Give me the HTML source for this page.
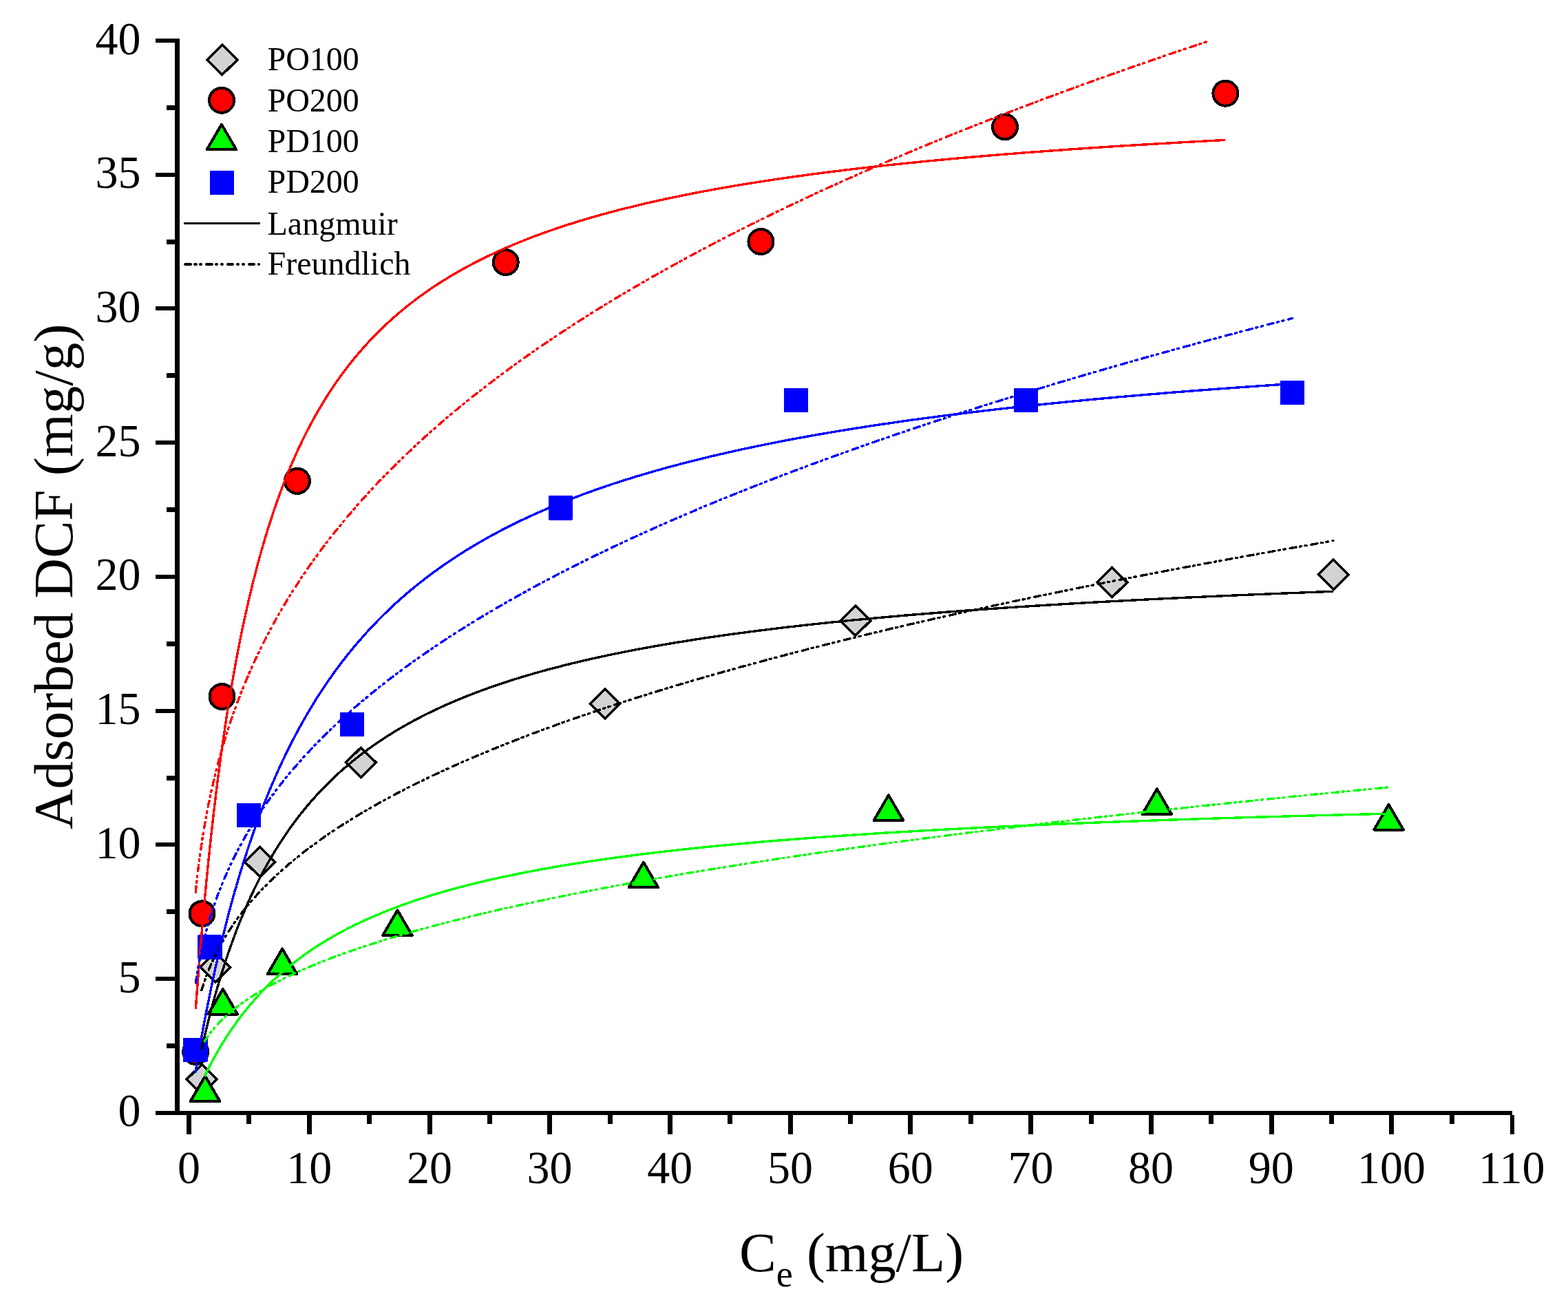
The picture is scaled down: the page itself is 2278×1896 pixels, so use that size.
<!DOCTYPE html>
<html lang="en"><head><meta charset="utf-8"><title>Adsorbed DCF isotherms</title>
<style>
html,body{margin:0;padding:0;background:#fff;}
body{width:2278px;height:1896px;overflow:hidden;}
svg{display:block;}
text{font-family:"Liberation Serif","Times New Roman",serif;fill:#000;}
.tick{font-size:66px;}
.leg{font-size:48px;}
.ttl{font-size:80px;}
.ax{fill:#000;shape-rendering:crispEdges;}
.mk{stroke:#000;stroke-width:4;stroke-linejoin:miter;shape-rendering:crispEdges;}
.mkr{stroke:#000;stroke-width:4;stroke-linejoin:round;shape-rendering:crispEdges;}
.ln{fill:none;shape-rendering:crispEdges;stroke-width:3.4;stroke-linecap:butt;stroke-linejoin:round;}
.fr{fill:none;shape-rendering:crispEdges;stroke-width:3.4;stroke-dasharray:9.0 5.4 2.3 5.4 2.3 7.1;stroke-linecap:round;stroke-linejoin:round;}
</style></head><body>
<svg width="2278" height="1896" viewBox="0 0 2278 1896">
<rect x="0" y="0" width="2278" height="1896" fill="#ffffff"/>
<g id="markers">
<polygon class="mk" style="stroke-width:3.6" fill="#d3d3d3" points="293.2,1546.5 315.1,1568.1 293.2,1589.7 271.3,1568.1"/>
<polygon class="mk" style="stroke-width:3.6" fill="#d3d3d3" points="312.8,1383.7 334.7,1405.3 312.8,1426.9 290.9,1405.3"/>
<polygon class="mk" style="stroke-width:3.6" fill="#d3d3d3" points="377.6,1230.7 399.5,1252.3 377.6,1273.9 355.7,1252.3"/>
<polygon class="mk" style="stroke-width:3.6" fill="#d3d3d3" points="524.4,1086.2 546.3,1107.8 524.4,1129.4 502.5,1107.8"/>
<polygon class="mk" style="stroke-width:3.6" fill="#d3d3d3" points="879.0,1000.9 900.9,1022.5 879.0,1044.1 857.1,1022.5"/>
<polygon class="mk" style="stroke-width:3.6" fill="#d3d3d3" points="1242.9,880.2 1264.8,901.8 1242.9,923.4 1221.0,901.8"/>
<polygon class="mk" style="stroke-width:3.6" fill="#d3d3d3" points="1615.7,824.5 1637.6,846.1 1615.7,867.7 1593.8,846.1"/>
<polygon class="mk" style="stroke-width:3.6" fill="#d3d3d3" points="1937.3,813.2 1959.2,834.8 1937.3,856.4 1915.4,834.8"/>
<circle class="mk" fill="#ff0000" cx="284.2" cy="1528.0" r="18.0"/>
<circle class="mk" fill="#ff0000" cx="293.5" cy="1327.4" r="18.0"/>
<circle class="mk" fill="#ff0000" cx="322.5" cy="1012.0" r="18.0"/>
<circle class="mk" fill="#ff0000" cx="431.9" cy="698.9" r="18.0"/>
<circle class="mk" fill="#ff0000" cx="734.7" cy="381.1" r="18.0"/>
<circle class="mk" fill="#ff0000" cx="1105.4" cy="351.1" r="18.0"/>
<circle class="mk" fill="#ff0000" cx="1460.0" cy="184.4" r="18.0"/>
<circle class="mk" fill="#ff0000" cx="1780.4" cy="135.7" r="18.0"/>
<polygon class="mkr" fill="#00ff00" points="298.1,1563.4 319.4,1600.0 276.8,1600.0"/>
<polygon class="mkr" fill="#00ff00" points="323.8,1436.9 345.1,1473.5 302.5,1473.5"/>
<polygon class="mkr" fill="#00ff00" points="410.1,1378.5 431.4,1415.1 388.8,1415.1"/>
<polygon class="mkr" fill="#00ff00" points="577.4,1322.4 598.7,1359.0 556.1,1359.0"/>
<polygon class="mkr" fill="#00ff00" points="934.9,1252.7 956.2,1289.3 913.6,1289.3"/>
<polygon class="mkr" fill="#00ff00" points="1290.9,1155.3 1312.2,1191.9 1269.6,1191.9"/>
<polygon class="mkr" fill="#00ff00" points="1680.8,1146.3 1702.1,1182.9 1659.5,1182.9"/>
<polygon class="mkr" fill="#00ff00" points="2017.5,1168.9 2038.8,1205.5 1996.2,1205.5"/>
<rect fill="#0000ff" shape-rendering="crispEdges" rx="1.5" x="266.1" y="1507.6" width="35.4" height="35.4"/>
<rect fill="#0000ff" shape-rendering="crispEdges" rx="1.5" x="287.2" y="1358.4" width="35.4" height="35.4"/>
<rect fill="#0000ff" shape-rendering="crispEdges" rx="1.5" x="343.8" y="1166.8" width="35.4" height="35.4"/>
<rect fill="#0000ff" shape-rendering="crispEdges" rx="1.5" x="493.7" y="1034.8" width="35.4" height="35.4"/>
<rect fill="#0000ff" shape-rendering="crispEdges" rx="1.5" x="796.6" y="720.1" width="35.4" height="35.4"/>
<rect fill="#0000ff" shape-rendering="crispEdges" rx="1.5" x="1138.9" y="563.9" width="35.4" height="35.4"/>
<rect fill="#0000ff" shape-rendering="crispEdges" rx="1.5" x="1472.7" y="563.9" width="35.4" height="35.4"/>
<rect fill="#0000ff" shape-rendering="crispEdges" rx="1.5" x="1860.0" y="553.0" width="35.4" height="35.4"/>
</g>
<g id="curves">
<path class="ln" stroke="#000000" d="M292.8 1524.7 L292.9 1524.6 L292.9 1524.5 L292.9 1524.3 L293.0 1523.9 L293.1 1523.5 L293.2 1523.0 L293.3 1522.4 L293.5 1521.8 L293.7 1521.0 L293.9 1520.1 L294.1 1519.2 L294.3 1518.1 L294.6 1517.0 L294.9 1515.8 L295.2 1514.5 L295.5 1513.1 L295.8 1511.7 L296.2 1510.1 L296.6 1508.5 L297.0 1506.8 L297.4 1505.0 L297.8 1503.2 L298.3 1501.2 L298.8 1499.2 L299.3 1497.1 L299.8 1495.0 L300.3 1492.7 L300.9 1490.4 L301.5 1488.1 L302.1 1485.6 L302.7 1483.1 L303.4 1480.6 L304.0 1478.0 L304.7 1475.3 L305.4 1472.5 L306.2 1469.7 L306.9 1466.9 L307.7 1464.0 L308.5 1461.0 L309.3 1458.0 L310.1 1455.0 L311.0 1451.9 L311.8 1448.7 L312.7 1445.5 L313.7 1442.3 L314.6 1439.0 L315.5 1435.7 L316.5 1432.4 L317.5 1429.0 L318.5 1425.6 L319.6 1422.2 L320.6 1418.7 L321.7 1415.2 L322.8 1411.7 L323.9 1408.1 L325.1 1404.5 L326.2 1401.0 L327.4 1397.3 L328.6 1393.7 L329.8 1390.0 L331.1 1386.4 L332.3 1382.7 L333.6 1379.0 L334.9 1375.3 L336.3 1371.6 L337.6 1367.8 L339.0 1364.1 L340.4 1360.3 L341.8 1356.6 L343.2 1352.8 L344.6 1349.1 L346.1 1345.3 L347.6 1341.6 L349.1 1337.8 L350.6 1334.0 L352.2 1330.3 L353.8 1326.5 L355.4 1322.8 L357.0 1319.0 L358.6 1315.3 L360.3 1311.6 L361.9 1307.8 L363.6 1304.1 L365.3 1300.4 L367.1 1296.7 L368.8 1293.0 L370.6 1289.3 L372.4 1285.7 L374.2 1282.0 L376.1 1278.4 L377.9 1274.8 L379.8 1271.2 L381.7 1267.6 L383.6 1264.0 L385.6 1260.4 L387.5 1256.9 L389.5 1253.3 L391.5 1249.8 L393.6 1246.3 L395.6 1242.9 L397.7 1239.4 L399.8 1236.0 L401.9 1232.6 L404.0 1229.2 L406.1 1225.8 L408.3 1222.4 L410.5 1219.1 L412.7 1215.8 L414.9 1212.5 L417.2 1209.2 L419.4 1205.9 L421.7 1202.7 L424.1 1199.5 L426.4 1196.3 L428.7 1193.2 L431.1 1190.0 L433.5 1186.9 L435.9 1183.8 L438.4 1180.7 L440.8 1177.7 L443.3 1174.6 L445.8 1171.6 L448.3 1168.6 L450.8 1165.7 L453.4 1162.7 L456.0 1159.8 L458.6 1156.9 L461.2 1154.1 L463.8 1151.2 L466.5 1148.4 L469.2 1145.6 L471.9 1142.8 L474.6 1140.1 L477.4 1137.3 L480.1 1134.6 L482.9 1131.9 L485.7 1129.3 L488.5 1126.6 L491.4 1124.0 L494.2 1121.4 L497.1 1118.8 L500.0 1116.3 L503.0 1113.8 L505.9 1111.2 L508.9 1108.8 L511.9 1106.3 L514.9 1103.9 L517.9 1101.4 L521.0 1099.0 L524.0 1096.6 L527.1 1094.3 L530.3 1092.0 L533.4 1089.6 L536.5 1087.3 L539.7 1085.1 L542.9 1082.8 L546.1 1080.6 L549.4 1078.4 L552.6 1076.2 L555.9 1074.0 L559.2 1071.8 L562.5 1069.7 L565.9 1067.6 L569.2 1065.5 L572.6 1063.4 L576.0 1061.4 L579.4 1059.3 L582.9 1057.3 L586.3 1055.3 L589.8 1053.3 L593.3 1051.4 L596.8 1049.4 L600.4 1047.5 L603.9 1045.6 L607.5 1043.7 L611.1 1041.8 L614.8 1039.9 L618.4 1038.1 L622.1 1036.3 L625.8 1034.5 L629.5 1032.7 L633.2 1030.9 L637.0 1029.2 L640.7 1027.4 L644.5 1025.7 L648.3 1024.0 L652.2 1022.3 L656.0 1020.6 L659.9 1019.0 L663.8 1017.3 L667.7 1015.7 L671.6 1014.1 L675.6 1012.5 L679.6 1010.9 L683.6 1009.3 L687.6 1007.8 L691.6 1006.2 L695.7 1004.7 L699.8 1003.2 L703.9 1001.7 L708.0 1000.2 L712.1 998.7 L716.3 997.3 L720.5 995.8 L724.7 994.4 L728.9 993.0 L733.1 991.6 L737.4 990.2 L741.7 988.8 L746.0 987.4 L750.3 986.1 L754.7 984.7 L759.0 983.4 L763.4 982.1 L767.8 980.8 L772.3 979.5 L776.7 978.2 L781.2 976.9 L785.7 975.7 L790.2 974.4 L794.7 973.2 L799.3 972.0 L803.8 970.8 L808.4 969.6 L813.0 968.4 L817.7 967.2 L822.3 966.0 L827.0 964.9 L831.7 963.7 L836.4 962.6 L841.2 961.4 L845.9 960.3 L850.7 959.2 L855.5 958.1 L860.3 957.0 L865.2 956.0 L870.0 954.9 L874.9 953.8 L879.8 952.8 L884.7 951.7 L889.7 950.7 L894.6 949.7 L899.6 948.7 L904.6 947.7 L909.6 946.7 L914.7 945.7 L919.7 944.7 L924.8 943.7 L929.9 942.8 L935.1 941.8 L940.2 940.9 L945.4 939.9 L950.6 939.0 L955.8 938.1 L961.0 937.2 L966.3 936.3 L971.5 935.4 L976.8 934.5 L982.1 933.6 L987.5 932.7 L992.8 931.9 L998.2 931.0 L1003.6 930.2 L1009.0 929.3 L1014.5 928.5 L1019.9 927.6 L1025.4 926.8 L1030.9 926.0 L1036.4 925.2 L1041.9 924.4 L1047.5 923.6 L1053.1 922.8 L1058.7 922.0 L1064.3 921.2 L1069.9 920.5 L1075.6 919.7 L1081.3 919.0 L1087.0 918.2 L1092.7 917.5 L1098.5 916.7 L1104.2 916.0 L1110.0 915.3 L1115.8 914.6 L1121.6 913.8 L1127.5 913.1 L1133.3 912.4 L1139.2 911.7 L1145.1 911.0 L1151.1 910.4 L1157.0 909.7 L1163.0 909.0 L1169.0 908.3 L1175.0 907.7 L1181.0 907.0 L1187.1 906.4 L1193.2 905.7 L1199.2 905.1 L1205.4 904.4 L1211.5 903.8 L1217.7 903.2 L1223.8 902.6 L1230.0 901.9 L1236.2 901.3 L1242.5 900.7 L1248.7 900.1 L1255.0 899.5 L1261.3 898.9 L1267.6 898.3 L1274.0 897.8 L1280.3 897.2 L1286.7 896.6 L1293.1 896.0 L1299.5 895.5 L1306.0 894.9 L1312.4 894.3 L1318.9 893.8 L1325.4 893.2 L1332.0 892.7 L1338.5 892.2 L1345.1 891.6 L1351.7 891.1 L1358.3 890.6 L1364.9 890.0 L1371.5 889.5 L1378.2 889.0 L1384.9 888.5 L1391.6 888.0 L1398.3 887.5 L1405.1 887.0 L1411.9 886.5 L1418.7 886.0 L1425.5 885.5 L1432.3 885.0 L1439.2 884.5 L1446.0 884.1 L1452.9 883.6 L1459.8 883.1 L1466.8 882.6 L1473.7 882.2 L1480.7 881.7 L1487.7 881.3 L1494.7 880.8 L1501.8 880.4 L1508.8 879.9 L1515.9 879.5 L1523.0 879.0 L1530.1 878.6 L1537.3 878.2 L1544.4 877.7 L1551.6 877.3 L1558.8 876.9 L1566.0 876.4 L1573.3 876.0 L1580.5 875.6 L1587.8 875.2 L1595.1 874.8 L1602.5 874.4 L1609.8 874.0 L1617.2 873.6 L1624.6 873.2 L1632.0 872.8 L1639.4 872.4 L1646.9 872.0 L1654.3 871.6 L1661.8 871.2 L1669.3 870.8 L1676.9 870.5 L1684.4 870.1 L1692.0 869.7 L1699.6 869.3 L1707.2 869.0 L1714.8 868.6 L1722.5 868.2 L1730.2 867.9 L1737.9 867.5 L1745.6 867.2 L1753.3 866.8 L1761.1 866.5 L1768.8 866.1 L1776.6 865.8 L1784.5 865.4 L1792.3 865.1 L1800.2 864.7 L1808.0 864.4 L1815.9 864.1 L1823.9 863.7 L1831.8 863.4 L1839.8 863.1 L1847.8 862.8 L1855.8 862.4 L1863.8 862.1 L1871.8 861.8 L1879.9 861.5 L1888.0 861.2 L1896.1 860.8 L1904.2 860.5 L1912.4 860.2 L1920.5 859.9 L1928.7 859.6 L1936.9 859.3"/>
<path class="fr" stroke="#000000" d="M292.8 1438.7 L292.9 1438.7 L292.9 1438.6 L292.9 1438.4 L293.0 1438.1 L293.1 1437.8 L293.2 1437.5 L293.3 1437.0 L293.5 1436.5 L293.7 1436.0 L293.9 1435.3 L294.1 1434.7 L294.3 1433.9 L294.6 1433.1 L294.9 1432.2 L295.2 1431.3 L295.5 1430.3 L295.8 1429.3 L296.2 1428.2 L296.6 1427.1 L297.0 1425.9 L297.4 1424.7 L297.8 1423.5 L298.3 1422.2 L298.8 1420.8 L299.3 1419.4 L299.8 1418.0 L300.3 1416.6 L300.9 1415.1 L301.5 1413.6 L302.1 1412.0 L302.7 1410.4 L303.4 1408.8 L304.0 1407.2 L304.7 1405.5 L305.4 1403.9 L306.2 1402.2 L306.9 1400.4 L307.7 1398.7 L308.5 1396.9 L309.3 1395.2 L310.1 1393.4 L311.0 1391.5 L311.8 1389.7 L312.7 1387.9 L313.7 1386.0 L314.6 1384.1 L315.5 1382.3 L316.5 1380.4 L317.5 1378.5 L318.5 1376.6 L319.6 1374.6 L320.6 1372.7 L321.7 1370.8 L322.8 1368.8 L323.9 1366.9 L325.1 1364.9 L326.2 1363.0 L327.4 1361.0 L328.6 1359.0 L329.8 1357.0 L331.1 1355.1 L332.3 1353.1 L333.6 1351.1 L334.9 1349.1 L336.3 1347.1 L337.6 1345.1 L339.0 1343.1 L340.4 1341.1 L341.8 1339.1 L343.2 1337.1 L344.6 1335.1 L346.1 1333.1 L347.6 1331.1 L349.1 1329.1 L350.6 1327.1 L352.2 1325.1 L353.8 1323.1 L355.4 1321.1 L357.0 1319.1 L358.6 1317.1 L360.3 1315.1 L361.9 1313.1 L363.6 1311.1 L365.3 1309.1 L367.1 1307.1 L368.8 1305.1 L370.6 1303.1 L372.4 1301.1 L374.2 1299.1 L376.1 1297.1 L377.9 1295.1 L379.8 1293.1 L381.7 1291.1 L383.6 1289.2 L385.6 1287.2 L387.5 1285.2 L389.5 1283.2 L391.5 1281.3 L393.6 1279.3 L395.6 1277.3 L397.7 1275.3 L399.8 1273.4 L401.9 1271.4 L404.0 1269.5 L406.1 1267.5 L408.3 1265.5 L410.5 1263.6 L412.7 1261.6 L414.9 1259.7 L417.2 1257.7 L419.4 1255.8 L421.7 1253.9 L424.1 1251.9 L426.4 1250.0 L428.7 1248.0 L431.1 1246.1 L433.5 1244.2 L435.9 1242.3 L438.4 1240.3 L440.8 1238.4 L443.3 1236.5 L445.8 1234.6 L448.3 1232.7 L450.8 1230.8 L453.4 1228.9 L456.0 1227.0 L458.6 1225.1 L461.2 1223.2 L463.8 1221.3 L466.5 1219.4 L469.2 1217.5 L471.9 1215.6 L474.6 1213.7 L477.4 1211.9 L480.1 1210.0 L482.9 1208.1 L485.7 1206.2 L488.5 1204.4 L491.4 1202.5 L494.2 1200.6 L497.1 1198.8 L500.0 1196.9 L503.0 1195.1 L505.9 1193.2 L508.9 1191.4 L511.9 1189.5 L514.9 1187.7 L517.9 1185.8 L521.0 1184.0 L524.0 1182.1 L527.1 1180.3 L530.3 1178.5 L533.4 1176.6 L536.5 1174.8 L539.7 1173.0 L542.9 1171.2 L546.1 1169.4 L549.4 1167.5 L552.6 1165.7 L555.9 1163.9 L559.2 1162.1 L562.5 1160.3 L565.9 1158.5 L569.2 1156.7 L572.6 1154.9 L576.0 1153.1 L579.4 1151.3 L582.9 1149.5 L586.3 1147.7 L589.8 1146.0 L593.3 1144.2 L596.8 1142.4 L600.4 1140.6 L603.9 1138.9 L607.5 1137.1 L611.1 1135.3 L614.8 1133.5 L618.4 1131.8 L622.1 1130.0 L625.8 1128.3 L629.5 1126.5 L633.2 1124.7 L637.0 1123.0 L640.7 1121.2 L644.5 1119.5 L648.3 1117.8 L652.2 1116.0 L656.0 1114.3 L659.9 1112.5 L663.8 1110.8 L667.7 1109.1 L671.6 1107.3 L675.6 1105.6 L679.6 1103.9 L683.6 1102.1 L687.6 1100.4 L691.6 1098.7 L695.7 1097.0 L699.8 1095.3 L703.9 1093.6 L708.0 1091.9 L712.1 1090.1 L716.3 1088.4 L720.5 1086.7 L724.7 1085.0 L728.9 1083.3 L733.1 1081.6 L737.4 1079.9 L741.7 1078.2 L746.0 1076.6 L750.3 1074.9 L754.7 1073.2 L759.0 1071.5 L763.4 1069.8 L767.8 1068.1 L772.3 1066.4 L776.7 1064.8 L781.2 1063.1 L785.7 1061.4 L790.2 1059.8 L794.7 1058.1 L799.3 1056.4 L803.8 1054.8 L808.4 1053.1 L813.0 1051.4 L817.7 1049.8 L822.3 1048.1 L827.0 1046.5 L831.7 1044.8 L836.4 1043.2 L841.2 1041.5 L845.9 1039.9 L850.7 1038.2 L855.5 1036.6 L860.3 1034.9 L865.2 1033.3 L870.0 1031.7 L874.9 1030.0 L879.8 1028.4 L884.7 1026.8 L889.7 1025.1 L894.6 1023.5 L899.6 1021.9 L904.6 1020.3 L909.6 1018.6 L914.7 1017.0 L919.7 1015.4 L924.8 1013.8 L929.9 1012.2 L935.1 1010.6 L940.2 1009.0 L945.4 1007.3 L950.6 1005.7 L955.8 1004.1 L961.0 1002.5 L966.3 1000.9 L971.5 999.3 L976.8 997.7 L982.1 996.1 L987.5 994.5 L992.8 992.9 L998.2 991.4 L1003.6 989.8 L1009.0 988.2 L1014.5 986.6 L1019.9 985.0 L1025.4 983.4 L1030.9 981.8 L1036.4 980.3 L1041.9 978.7 L1047.5 977.1 L1053.1 975.5 L1058.7 974.0 L1064.3 972.4 L1069.9 970.8 L1075.6 969.2 L1081.3 967.7 L1087.0 966.1 L1092.7 964.6 L1098.5 963.0 L1104.2 961.4 L1110.0 959.9 L1115.8 958.3 L1121.6 956.8 L1127.5 955.2 L1133.3 953.7 L1139.2 952.1 L1145.1 950.6 L1151.1 949.0 L1157.0 947.5 L1163.0 945.9 L1169.0 944.4 L1175.0 942.8 L1181.0 941.3 L1187.1 939.8 L1193.2 938.2 L1199.2 936.7 L1205.4 935.2 L1211.5 933.6 L1217.7 932.1 L1223.8 930.6 L1230.0 929.0 L1236.2 927.5 L1242.5 926.0 L1248.7 924.5 L1255.0 922.9 L1261.3 921.4 L1267.6 919.9 L1274.0 918.4 L1280.3 916.9 L1286.7 915.4 L1293.1 913.8 L1299.5 912.3 L1306.0 910.8 L1312.4 909.3 L1318.9 907.8 L1325.4 906.3 L1332.0 904.8 L1338.5 903.3 L1345.1 901.8 L1351.7 900.3 L1358.3 898.8 L1364.9 897.3 L1371.5 895.8 L1378.2 894.3 L1384.9 892.8 L1391.6 891.3 L1398.3 889.8 L1405.1 888.3 L1411.9 886.8 L1418.7 885.4 L1425.5 883.9 L1432.3 882.4 L1439.2 880.9 L1446.0 879.4 L1452.9 877.9 L1459.8 876.5 L1466.8 875.0 L1473.7 873.5 L1480.7 872.0 L1487.7 870.6 L1494.7 869.1 L1501.8 867.6 L1508.8 866.1 L1515.9 864.7 L1523.0 863.2 L1530.1 861.7 L1537.3 860.3 L1544.4 858.8 L1551.6 857.4 L1558.8 855.9 L1566.0 854.4 L1573.3 853.0 L1580.5 851.5 L1587.8 850.1 L1595.1 848.6 L1602.5 847.1 L1609.8 845.7 L1617.2 844.2 L1624.6 842.8 L1632.0 841.3 L1639.4 839.9 L1646.9 838.5 L1654.3 837.0 L1661.8 835.6 L1669.3 834.1 L1676.9 832.7 L1684.4 831.2 L1692.0 829.8 L1699.6 828.4 L1707.2 826.9 L1714.8 825.5 L1722.5 824.0 L1730.2 822.6 L1737.9 821.2 L1745.6 819.8 L1753.3 818.3 L1761.1 816.9 L1768.8 815.5 L1776.6 814.0 L1784.5 812.6 L1792.3 811.2 L1800.2 809.8 L1808.0 808.3 L1815.9 806.9 L1823.9 805.5 L1831.8 804.1 L1839.8 802.7 L1847.8 801.2 L1855.8 799.8 L1863.8 798.4 L1871.8 797.0 L1879.9 795.6 L1888.0 794.2 L1896.1 792.8 L1904.2 791.4 L1912.4 789.9 L1920.5 788.5 L1928.7 787.1 L1936.9 785.7"/>
<path class="ln" stroke="#ff0000" d="M284.3 1466.4 L284.3 1466.3 L284.3 1465.9 L284.4 1465.3 L284.4 1464.4 L284.5 1463.2 L284.6 1461.8 L284.7 1460.1 L284.9 1458.2 L285.0 1456.1 L285.2 1453.6 L285.4 1451.0 L285.6 1448.1 L285.9 1445.0 L286.1 1441.6 L286.4 1438.0 L286.7 1434.2 L287.0 1430.1 L287.3 1425.8 L287.7 1421.3 L288.0 1416.7 L288.4 1411.8 L288.8 1406.7 L289.2 1401.4 L289.7 1395.9 L290.1 1390.2 L290.6 1384.4 L291.1 1378.4 L291.6 1372.2 L292.1 1365.9 L292.7 1359.4 L293.3 1352.7 L293.9 1345.9 L294.5 1339.0 L295.1 1332.0 L295.7 1324.8 L296.4 1317.5 L297.1 1310.1 L297.8 1302.5 L298.5 1294.9 L299.2 1287.2 L300.0 1279.4 L300.8 1271.5 L301.6 1263.5 L302.4 1255.5 L303.2 1247.3 L304.1 1239.1 L304.9 1230.9 L305.8 1222.6 L306.7 1214.3 L307.7 1205.9 L308.6 1197.5 L309.6 1189.0 L310.5 1180.5 L311.6 1172.0 L312.6 1163.5 L313.6 1155.0 L314.7 1146.4 L315.7 1137.8 L316.8 1129.3 L317.9 1120.7 L319.1 1112.2 L320.2 1103.6 L321.4 1095.1 L322.6 1086.5 L323.8 1078.0 L325.0 1069.5 L326.3 1061.1 L327.5 1052.6 L328.8 1044.2 L330.1 1035.8 L331.4 1027.5 L332.8 1019.2 L334.1 1010.9 L335.5 1002.7 L336.9 994.5 L338.3 986.3 L339.7 978.2 L341.2 970.2 L342.6 962.2 L344.1 954.2 L345.6 946.3 L347.2 938.5 L348.7 930.7 L350.3 922.9 L351.8 915.2 L353.4 907.6 L355.1 900.0 L356.7 892.5 L358.4 885.1 L360.0 877.7 L361.7 870.4 L363.4 863.1 L365.2 855.9 L366.9 848.8 L368.7 841.7 L370.5 834.7 L372.3 827.7 L374.1 820.8 L375.9 814.0 L377.8 807.3 L379.7 800.6 L381.6 794.0 L383.5 787.4 L385.4 780.9 L387.4 774.5 L389.3 768.1 L391.3 761.8 L393.4 755.6 L395.4 749.4 L397.4 743.3 L399.5 737.2 L401.6 731.2 L403.7 725.3 L405.8 719.5 L407.9 713.7 L410.1 707.9 L412.3 702.3 L414.5 696.6 L416.7 691.1 L418.9 685.6 L421.2 680.2 L423.5 674.8 L425.8 669.5 L428.1 664.2 L430.4 659.0 L432.7 653.9 L435.1 648.8 L437.5 643.8 L439.9 638.8 L442.3 633.9 L444.8 629.1 L447.2 624.3 L449.7 619.5 L452.2 614.9 L454.7 610.2 L457.2 605.6 L459.8 601.1 L462.4 596.6 L465.0 592.2 L467.6 587.8 L470.2 583.5 L472.8 579.2 L475.5 575.0 L478.2 570.8 L480.9 566.7 L483.6 562.6 L486.3 558.5 L489.1 554.5 L491.9 550.6 L494.7 546.7 L497.5 542.8 L500.3 539.0 L503.2 535.3 L506.0 531.5 L508.9 527.9 L511.8 524.2 L514.8 520.6 L517.7 517.1 L520.7 513.6 L523.7 510.1 L526.7 506.6 L529.7 503.2 L532.7 499.9 L535.8 496.6 L538.9 493.3 L542.0 490.0 L545.1 486.8 L548.2 483.7 L551.4 480.5 L554.5 477.4 L557.7 474.4 L560.9 471.3 L564.1 468.4 L567.4 465.4 L570.7 462.5 L573.9 459.6 L577.2 456.7 L580.6 453.9 L583.9 451.1 L587.2 448.3 L590.6 445.6 L594.0 442.9 L597.4 440.2 L600.9 437.6 L604.3 434.9 L607.8 432.4 L611.3 429.8 L614.8 427.3 L618.3 424.8 L621.8 422.3 L625.4 419.9 L629.0 417.4 L632.6 415.0 L636.2 412.7 L639.8 410.3 L643.5 408.0 L647.2 405.7 L650.9 403.5 L654.6 401.2 L658.3 399.0 L662.1 396.8 L665.8 394.7 L669.6 392.5 L673.4 390.4 L677.3 388.3 L681.1 386.2 L685.0 384.2 L688.8 382.1 L692.7 380.1 L696.7 378.1 L700.6 376.2 L704.5 374.2 L708.5 372.3 L712.5 370.4 L716.5 368.5 L720.6 366.6 L724.6 364.8 L728.7 362.9 L732.8 361.1 L736.9 359.3 L741.0 357.6 L745.1 355.8 L749.3 354.1 L753.5 352.4 L757.7 350.7 L761.9 349.0 L766.1 347.3 L770.4 345.7 L774.6 344.0 L778.9 342.4 L783.3 340.8 L787.6 339.2 L791.9 337.7 L796.3 336.1 L800.7 334.6 L805.1 333.1 L809.5 331.6 L814.0 330.1 L818.4 328.6 L822.9 327.1 L827.4 325.7 L831.9 324.3 L836.4 322.9 L841.0 321.4 L845.6 320.1 L850.2 318.7 L854.8 317.3 L859.4 316.0 L864.0 314.6 L868.7 313.3 L873.4 312.0 L878.1 310.7 L882.8 309.4 L887.6 308.1 L892.3 306.9 L897.1 305.6 L901.9 304.4 L906.7 303.2 L911.5 302.0 L916.4 300.8 L921.3 299.6 L926.2 298.4 L931.1 297.2 L936.0 296.1 L940.9 294.9 L945.9 293.8 L950.9 292.7 L955.9 291.5 L960.9 290.4 L966.0 289.3 L971.0 288.3 L976.1 287.2 L981.2 286.1 L986.3 285.1 L991.4 284.0 L996.6 283.0 L1001.8 282.0 L1007.0 280.9 L1012.2 279.9 L1017.4 278.9 L1022.6 277.9 L1027.9 277.0 L1033.2 276.0 L1038.5 275.0 L1043.8 274.1 L1049.1 273.1 L1054.5 272.2 L1059.9 271.3 L1065.3 270.3 L1070.7 269.4 L1076.1 268.5 L1081.6 267.6 L1087.0 266.7 L1092.5 265.9 L1098.0 265.0 L1103.6 264.1 L1109.1 263.3 L1114.7 262.4 L1120.3 261.6 L1125.9 260.7 L1131.5 259.9 L1137.1 259.1 L1142.8 258.3 L1148.4 257.4 L1154.1 256.6 L1159.9 255.9 L1165.6 255.1 L1171.3 254.3 L1177.1 253.5 L1182.9 252.7 L1188.7 252.0 L1194.5 251.2 L1200.4 250.5 L1206.2 249.7 L1212.1 249.0 L1218.0 248.3 L1223.9 247.5 L1229.9 246.8 L1235.8 246.1 L1241.8 245.4 L1247.8 244.7 L1253.8 244.0 L1259.8 243.3 L1265.9 242.6 L1272.0 242.0 L1278.1 241.3 L1284.2 240.6 L1290.3 239.9 L1296.4 239.3 L1302.6 238.6 L1308.8 238.0 L1315.0 237.4 L1321.2 236.7 L1327.4 236.1 L1333.7 235.5 L1340.0 234.8 L1346.2 234.2 L1352.6 233.6 L1358.9 233.0 L1365.2 232.4 L1371.6 231.8 L1378.0 231.2 L1384.4 230.6 L1390.8 230.0 L1397.3 229.5 L1403.7 228.9 L1410.2 228.3 L1416.7 227.8 L1423.2 227.2 L1429.8 226.6 L1436.3 226.1 L1442.9 225.5 L1449.5 225.0 L1456.1 224.4 L1462.7 223.9 L1469.4 223.4 L1476.0 222.9 L1482.7 222.3 L1489.4 221.8 L1496.1 221.3 L1502.9 220.8 L1509.7 220.3 L1516.4 219.8 L1523.2 219.3 L1530.0 218.8 L1536.9 218.3 L1543.7 217.8 L1550.6 217.3 L1557.5 216.8 L1564.4 216.3 L1571.3 215.9 L1578.3 215.4 L1585.3 214.9 L1592.2 214.5 L1599.2 214.0 L1606.3 213.5 L1613.3 213.1 L1620.4 212.6 L1627.4 212.2 L1634.5 211.7 L1641.7 211.3 L1648.8 210.9 L1655.9 210.4 L1663.1 210.0 L1670.3 209.6 L1677.5 209.1 L1684.7 208.7 L1692.0 208.3 L1699.3 207.9 L1706.5 207.5 L1713.8 207.0 L1721.2 206.6 L1728.5 206.2 L1735.9 205.8 L1743.2 205.4 L1750.6 205.0 L1758.1 204.6 L1765.5 204.2 L1772.9 203.8 L1780.4 203.5"/>
<path class="fr" stroke="#ff0000" d="M284.3 1296.7 L284.3 1296.6 L284.3 1296.3 L284.4 1295.8 L284.4 1295.2 L284.5 1294.3 L284.6 1293.3 L284.7 1292.1 L284.9 1290.7 L285.0 1289.2 L285.2 1287.5 L285.4 1285.6 L285.6 1283.6 L285.8 1281.4 L286.1 1279.1 L286.4 1276.7 L286.6 1274.1 L286.9 1271.4 L287.3 1268.7 L287.6 1265.8 L288.0 1262.7 L288.3 1259.7 L288.7 1256.5 L289.2 1253.2 L289.6 1249.8 L290.0 1246.4 L290.5 1242.9 L291.0 1239.4 L291.5 1235.8 L292.0 1232.1 L292.6 1228.4 L293.1 1224.6 L293.7 1220.8 L294.3 1217.0 L294.9 1213.1 L295.6 1209.2 L296.2 1205.2 L296.9 1201.2 L297.6 1197.2 L298.3 1193.2 L299.0 1189.2 L299.8 1185.1 L300.5 1181.0 L301.3 1177.0 L302.1 1172.9 L302.9 1168.8 L303.8 1164.6 L304.6 1160.5 L305.5 1156.4 L306.4 1152.2 L307.3 1148.1 L308.2 1143.9 L309.2 1139.8 L310.2 1135.6 L311.1 1131.5 L312.1 1127.3 L313.2 1123.2 L314.2 1119.0 L315.3 1114.9 L316.3 1110.7 L317.4 1106.6 L318.5 1102.5 L319.7 1098.3 L320.8 1094.2 L322.0 1090.1 L323.2 1086.0 L324.4 1081.9 L325.6 1077.8 L326.9 1073.7 L328.1 1069.6 L329.4 1065.5 L330.7 1061.4 L332.0 1057.4 L333.4 1053.3 L334.7 1049.2 L336.1 1045.2 L337.5 1041.2 L338.9 1037.1 L340.3 1033.1 L341.8 1029.1 L343.2 1025.1 L344.7 1021.1 L346.2 1017.1 L347.7 1013.2 L349.3 1009.2 L350.8 1005.2 L352.4 1001.3 L354.0 997.3 L355.6 993.4 L357.2 989.5 L358.9 985.6 L360.5 981.7 L362.2 977.8 L363.9 973.9 L365.7 970.0 L367.4 966.2 L369.2 962.3 L370.9 958.4 L372.7 954.6 L374.5 950.8 L376.4 947.0 L378.2 943.1 L380.1 939.3 L382.0 935.6 L383.9 931.8 L385.8 928.0 L387.8 924.2 L389.7 920.5 L391.7 916.7 L393.7 913.0 L395.7 909.2 L397.7 905.5 L399.8 901.8 L401.9 898.1 L404.0 894.4 L406.1 890.7 L408.2 887.0 L410.3 883.4 L412.5 879.7 L414.7 876.1 L416.9 872.4 L419.1 868.8 L421.3 865.2 L423.6 861.5 L425.9 857.9 L428.2 854.3 L430.5 850.7 L432.8 847.1 L435.2 843.6 L437.5 840.0 L439.9 836.4 L442.3 832.9 L444.7 829.3 L447.2 825.8 L449.6 822.2 L452.1 818.7 L454.6 815.2 L457.1 811.7 L459.7 808.2 L462.2 804.7 L464.8 801.2 L467.4 797.7 L470.0 794.3 L472.6 790.8 L475.2 787.3 L477.9 783.9 L480.6 780.5 L483.3 777.0 L486.0 773.6 L488.7 770.2 L491.5 766.8 L494.3 763.3 L497.0 759.9 L499.9 756.6 L502.7 753.2 L505.5 749.8 L508.4 746.4 L511.3 743.1 L514.2 739.7 L517.1 736.3 L520.0 733.0 L523.0 729.7 L526.0 726.3 L529.0 723.0 L532.0 719.7 L535.0 716.4 L538.0 713.1 L541.1 709.8 L544.2 706.5 L547.3 703.2 L550.4 699.9 L553.6 696.6 L556.7 693.3 L559.9 690.1 L563.1 686.8 L566.3 683.6 L569.5 680.3 L572.8 677.1 L576.1 673.9 L579.3 670.6 L582.7 667.4 L586.0 664.2 L589.3 661.0 L592.7 657.8 L596.1 654.6 L599.5 651.4 L602.9 648.2 L606.3 645.0 L609.8 641.8 L613.2 638.7 L616.7 635.5 L620.2 632.4 L623.8 629.2 L627.3 626.1 L630.9 622.9 L634.5 619.8 L638.1 616.6 L641.7 613.5 L645.3 610.4 L649.0 607.3 L652.6 604.2 L656.3 601.1 L660.0 598.0 L663.8 594.9 L667.5 591.8 L671.3 588.7 L675.1 585.6 L678.9 582.5 L682.7 579.5 L686.5 576.4 L690.4 573.3 L694.3 570.3 L698.2 567.2 L702.1 564.2 L706.0 561.1 L710.0 558.1 L713.9 555.1 L717.9 552.1 L721.9 549.0 L725.9 546.0 L730.0 543.0 L734.1 540.0 L738.1 537.0 L742.2 534.0 L746.3 531.0 L750.5 528.0 L754.6 525.0 L758.8 522.0 L763.0 519.1 L767.2 516.1 L771.4 513.1 L775.7 510.2 L779.9 507.2 L784.2 504.3 L788.5 501.3 L792.8 498.4 L797.2 495.4 L801.5 492.5 L805.9 489.6 L810.3 486.6 L814.7 483.7 L819.1 480.8 L823.6 477.9 L828.1 475.0 L832.5 472.1 L837.0 469.2 L841.6 466.3 L846.1 463.4 L850.7 460.5 L855.2 457.6 L859.8 454.7 L864.5 451.8 L869.1 448.9 L873.7 446.1 L878.4 443.2 L883.1 440.3 L887.8 437.5 L892.5 434.6 L897.3 431.8 L902.0 428.9 L906.8 426.1 L911.6 423.3 L916.4 420.4 L921.3 417.6 L926.1 414.8 L931.0 411.9 L935.9 409.1 L940.8 406.3 L945.7 403.5 L950.6 400.7 L955.6 397.9 L960.6 395.1 L965.6 392.3 L970.6 389.5 L975.6 386.7 L980.7 383.9 L985.8 381.1 L990.9 378.3 L996.0 375.5 L1001.1 372.8 L1006.3 370.0 L1011.4 367.2 L1016.6 364.5 L1021.8 361.7 L1027.0 359.0 L1032.3 356.2 L1037.5 353.5 L1042.8 350.7 L1048.1 348.0 L1053.4 345.2 L1058.7 342.5 L1064.1 339.8 L1069.5 337.0 L1074.9 334.3 L1080.3 331.6 L1085.7 328.9 L1091.1 326.1 L1096.6 323.4 L1102.1 320.7 L1107.6 318.0 L1113.1 315.3 L1118.6 312.6 L1124.2 309.9 L1129.7 307.2 L1135.3 304.5 L1140.9 301.8 L1146.6 299.1 L1152.2 296.5 L1157.9 293.8 L1163.6 291.1 L1169.3 288.4 L1175.0 285.8 L1180.7 283.1 L1186.5 280.4 L1192.2 277.8 L1198.0 275.1 L1203.8 272.5 L1209.7 269.8 L1215.5 267.2 L1221.4 264.5 L1227.3 261.9 L1233.2 259.2 L1239.1 256.6 L1245.0 254.0 L1251.0 251.3 L1257.0 248.7 L1263.0 246.1 L1269.0 243.5 L1275.0 240.8 L1281.1 238.2 L1287.1 235.6 L1293.2 233.0 L1299.3 230.4 L1305.4 227.8 L1311.6 225.2 L1317.7 222.6 L1323.9 220.0 L1330.1 217.4 L1336.3 214.8 L1342.6 212.2 L1348.8 209.6 L1355.1 207.0 L1361.4 204.5 L1367.7 201.9 L1374.0 199.3 L1380.4 196.7 L1386.7 194.2 L1393.1 191.6 L1399.5 189.0 L1405.9 186.5 L1412.4 183.9 L1418.8 181.4 L1425.3 178.8 L1431.8 176.3 L1438.3 173.7 L1444.8 171.2 L1451.4 168.6 L1457.9 166.1 L1464.5 163.5 L1471.1 161.0 L1477.8 158.5 L1484.4 155.9 L1491.1 153.4 L1497.7 150.9 L1504.4 148.4 L1511.1 145.8 L1517.9 143.3 L1524.6 140.8 L1531.4 138.3 L1538.2 135.8 L1545.0 133.3 L1551.8 130.8 L1558.6 128.3 L1565.5 125.8 L1572.4 123.3 L1579.3 120.8 L1586.2 118.3 L1593.1 115.8 L1600.1 113.3 L1607.1 110.8 L1614.0 108.3 L1621.1 105.8 L1628.1 103.4 L1635.1 100.9 L1642.2 98.4 L1649.3 95.9 L1656.4 93.5 L1663.5 91.0 L1670.6 88.5 L1677.8 86.1 L1685.0 83.6 L1692.1 81.1 L1699.4 78.7 L1706.6 76.2 L1713.8 73.8 L1721.1 71.3 L1728.4 68.9 L1735.7 66.4 L1743.0 64.0 L1750.3 61.6 L1757.7 59.1"/>
<path class="ln" stroke="#00ff00" d="M297.2 1563.8 L297.2 1563.8 L297.3 1563.7 L297.3 1563.6 L297.4 1563.5 L297.5 1563.3 L297.6 1563.0 L297.7 1562.7 L297.9 1562.4 L298.1 1562.0 L298.3 1561.6 L298.5 1561.1 L298.8 1560.6 L299.0 1560.1 L299.3 1559.5 L299.6 1558.9 L300.0 1558.2 L300.3 1557.5 L300.7 1556.7 L301.1 1555.9 L301.5 1555.1 L302.0 1554.2 L302.4 1553.3 L302.9 1552.3 L303.4 1551.3 L303.9 1550.3 L304.5 1549.2 L305.0 1548.1 L305.6 1547.0 L306.3 1545.8 L306.9 1544.6 L307.5 1543.4 L308.2 1542.1 L308.9 1540.8 L309.6 1539.5 L310.4 1538.1 L311.1 1536.7 L311.9 1535.3 L312.7 1533.9 L313.6 1532.4 L314.4 1530.9 L315.3 1529.3 L316.2 1527.8 L317.1 1526.2 L318.0 1524.6 L319.0 1523.0 L320.0 1521.3 L321.0 1519.6 L322.0 1517.9 L323.0 1516.2 L324.1 1514.5 L325.2 1512.7 L326.3 1510.9 L327.4 1509.2 L328.6 1507.3 L329.7 1505.5 L330.9 1503.7 L332.1 1501.8 L333.4 1500.0 L334.6 1498.1 L335.9 1496.2 L337.2 1494.3 L338.5 1492.4 L339.9 1490.5 L341.2 1488.5 L342.6 1486.6 L344.0 1484.6 L345.5 1482.7 L346.9 1480.7 L348.4 1478.7 L349.9 1476.8 L351.4 1474.8 L352.9 1472.8 L354.5 1470.8 L356.1 1468.8 L357.7 1466.8 L359.3 1464.8 L361.0 1462.8 L362.6 1460.8 L364.3 1458.8 L366.0 1456.8 L367.8 1454.8 L369.5 1452.8 L371.3 1450.8 L373.1 1448.8 L374.9 1446.8 L376.7 1444.8 L378.6 1442.8 L380.5 1440.8 L382.4 1438.8 L384.3 1436.8 L386.2 1434.8 L388.2 1432.8 L390.2 1430.9 L392.2 1428.9 L394.2 1426.9 L396.3 1425.0 L398.4 1423.0 L400.5 1421.1 L402.6 1419.2 L404.7 1417.2 L406.9 1415.3 L409.1 1413.4 L411.3 1411.5 L413.5 1409.6 L415.7 1407.7 L418.0 1405.8 L420.3 1403.9 L422.6 1402.1 L425.0 1400.2 L427.3 1398.4 L429.7 1396.5 L432.1 1394.7 L434.5 1392.9 L436.9 1391.1 L439.4 1389.3 L441.9 1387.5 L444.4 1385.7 L446.9 1383.9 L449.5 1382.2 L452.0 1380.4 L454.6 1378.7 L457.2 1376.9 L459.9 1375.2 L462.5 1373.5 L465.2 1371.8 L467.9 1370.1 L470.6 1368.5 L473.4 1366.8 L476.1 1365.1 L478.9 1363.5 L481.7 1361.9 L484.5 1360.2 L487.4 1358.6 L490.3 1357.0 L493.2 1355.4 L496.1 1353.9 L499.0 1352.3 L502.0 1350.7 L504.9 1349.2 L507.9 1347.7 L511.0 1346.2 L514.0 1344.6 L517.1 1343.1 L520.2 1341.7 L523.3 1340.2 L526.4 1338.7 L529.5 1337.3 L532.7 1335.8 L535.9 1334.4 L539.1 1333.0 L542.4 1331.6 L545.6 1330.2 L548.9 1328.8 L552.2 1327.4 L555.5 1326.0 L558.9 1324.7 L562.2 1323.3 L565.6 1322.0 L569.0 1320.7 L572.5 1319.4 L575.9 1318.1 L579.4 1316.8 L582.9 1315.5 L586.4 1314.2 L589.9 1313.0 L593.5 1311.7 L597.1 1310.5 L600.7 1309.2 L604.3 1308.0 L607.9 1306.8 L611.6 1305.6 L615.3 1304.4 L619.0 1303.2 L622.7 1302.1 L626.5 1300.9 L630.3 1299.7 L634.1 1298.6 L637.9 1297.5 L641.7 1296.3 L645.6 1295.2 L649.4 1294.1 L653.4 1293.0 L657.3 1292.0 L661.2 1290.9 L665.2 1289.8 L669.2 1288.7 L673.2 1287.7 L677.2 1286.7 L681.3 1285.6 L685.3 1284.6 L689.4 1283.6 L693.6 1282.6 L697.7 1281.6 L701.9 1280.6 L706.0 1279.6 L710.2 1278.6 L714.5 1277.7 L718.7 1276.7 L723.0 1275.8 L727.3 1274.8 L731.6 1273.9 L735.9 1273.0 L740.3 1272.1 L744.7 1271.2 L749.1 1270.3 L753.5 1269.4 L757.9 1268.5 L762.4 1267.6 L766.9 1266.7 L771.4 1265.9 L775.9 1265.0 L780.4 1264.2 L785.0 1263.3 L789.6 1262.5 L794.2 1261.7 L798.8 1260.8 L803.5 1260.0 L808.2 1259.2 L812.9 1258.4 L817.6 1257.6 L822.3 1256.8 L827.1 1256.1 L831.9 1255.3 L836.7 1254.5 L841.5 1253.8 L846.4 1253.0 L851.2 1252.3 L856.1 1251.5 L861.0 1250.8 L866.0 1250.1 L870.9 1249.3 L875.9 1248.6 L880.9 1247.9 L885.9 1247.2 L891.0 1246.5 L896.0 1245.8 L901.1 1245.1 L906.2 1244.5 L911.4 1243.8 L916.5 1243.1 L921.7 1242.4 L926.9 1241.8 L932.1 1241.1 L937.3 1240.5 L942.6 1239.8 L947.9 1239.2 L953.2 1238.6 L958.5 1238.0 L963.8 1237.3 L969.2 1236.7 L974.6 1236.1 L980.0 1235.5 L985.4 1234.9 L990.9 1234.3 L996.3 1233.7 L1001.8 1233.1 L1007.3 1232.5 L1012.9 1232.0 L1018.4 1231.4 L1024.0 1230.8 L1029.6 1230.3 L1035.3 1229.7 L1040.9 1229.1 L1046.6 1228.6 L1052.2 1228.1 L1058.0 1227.5 L1063.7 1227.0 L1069.4 1226.4 L1075.2 1225.9 L1081.0 1225.4 L1086.8 1224.9 L1092.7 1224.4 L1098.5 1223.8 L1104.4 1223.3 L1110.3 1222.8 L1116.2 1222.3 L1122.2 1221.8 L1128.1 1221.3 L1134.1 1220.9 L1140.1 1220.4 L1146.2 1219.9 L1152.2 1219.4 L1158.3 1219.0 L1164.4 1218.5 L1170.5 1218.0 L1176.7 1217.6 L1182.8 1217.1 L1189.0 1216.6 L1195.2 1216.2 L1201.4 1215.7 L1207.7 1215.3 L1213.9 1214.9 L1220.2 1214.4 L1226.5 1214.0 L1232.9 1213.6 L1239.2 1213.1 L1245.6 1212.7 L1252.0 1212.3 L1258.4 1211.9 L1264.9 1211.5 L1271.3 1211.1 L1277.8 1210.6 L1284.3 1210.2 L1290.8 1209.8 L1297.4 1209.4 L1304.0 1209.0 L1310.5 1208.7 L1317.2 1208.3 L1323.8 1207.9 L1330.4 1207.5 L1337.1 1207.1 L1343.8 1206.7 L1350.5 1206.4 L1357.3 1206.0 L1364.0 1205.6 L1370.8 1205.3 L1377.6 1204.9 L1384.5 1204.5 L1391.3 1204.2 L1398.2 1203.8 L1405.1 1203.5 L1412.0 1203.1 L1418.9 1202.8 L1425.9 1202.4 L1432.9 1202.1 L1439.9 1201.7 L1446.9 1201.4 L1453.9 1201.1 L1461.0 1200.7 L1468.1 1200.4 L1475.2 1200.1 L1482.3 1199.7 L1489.5 1199.4 L1496.6 1199.1 L1503.8 1198.8 L1511.0 1198.5 L1518.3 1198.1 L1525.5 1197.8 L1532.8 1197.5 L1540.1 1197.2 L1547.4 1196.9 L1554.8 1196.6 L1562.1 1196.3 L1569.5 1196.0 L1576.9 1195.7 L1584.4 1195.4 L1591.8 1195.1 L1599.3 1194.8 L1606.8 1194.5 L1614.3 1194.3 L1621.8 1194.0 L1629.4 1193.7 L1637.0 1193.4 L1644.6 1193.1 L1652.2 1192.9 L1659.8 1192.6 L1667.5 1192.3 L1675.2 1192.0 L1682.9 1191.8 L1690.6 1191.5 L1698.4 1191.2 L1706.2 1191.0 L1714.0 1190.7 L1721.8 1190.5 L1729.6 1190.2 L1737.5 1189.9 L1745.3 1189.7 L1753.2 1189.4 L1761.2 1189.2 L1769.1 1188.9 L1777.1 1188.7 L1785.1 1188.4 L1793.1 1188.2 L1801.1 1187.9 L1809.2 1187.7 L1817.2 1187.5 L1825.3 1187.2 L1833.5 1187.0 L1841.6 1186.8 L1849.8 1186.5 L1857.9 1186.3 L1866.1 1186.1 L1874.4 1185.8 L1882.6 1185.6 L1890.9 1185.4 L1899.2 1185.2 L1907.5 1184.9 L1915.8 1184.7 L1924.2 1184.5 L1932.5 1184.3 L1940.9 1184.1 L1949.4 1183.8 L1957.8 1183.6 L1966.3 1183.4 L1974.7 1183.2 L1983.2 1183.0 L1991.8 1182.8 L2000.3 1182.6 L2008.9 1182.4 L2017.5 1182.2"/>
<path class="fr" stroke="#00ff00" d="M297.2 1512.8 L297.2 1512.8 L297.3 1512.7 L297.3 1512.6 L297.4 1512.5 L297.5 1512.4 L297.6 1512.2 L297.7 1512.0 L297.9 1511.7 L298.1 1511.4 L298.3 1511.1 L298.5 1510.8 L298.8 1510.4 L299.0 1510.0 L299.3 1509.5 L299.6 1509.1 L300.0 1508.6 L300.3 1508.0 L300.7 1507.5 L301.1 1506.9 L301.5 1506.3 L302.0 1505.7 L302.4 1505.0 L302.9 1504.4 L303.4 1503.7 L303.9 1503.0 L304.5 1502.2 L305.0 1501.5 L305.6 1500.7 L306.3 1499.9 L306.9 1499.1 L307.5 1498.3 L308.2 1497.4 L308.9 1496.6 L309.6 1495.7 L310.4 1494.8 L311.1 1493.9 L311.9 1493.0 L312.7 1492.1 L313.6 1491.1 L314.4 1490.2 L315.3 1489.2 L316.2 1488.3 L317.1 1487.3 L318.0 1486.3 L319.0 1485.3 L320.0 1484.3 L321.0 1483.3 L322.0 1482.3 L323.0 1481.2 L324.1 1480.2 L325.2 1479.2 L326.3 1478.1 L327.4 1477.1 L328.6 1476.0 L329.7 1475.0 L330.9 1473.9 L332.1 1472.9 L333.4 1471.8 L334.6 1470.7 L335.9 1469.6 L337.2 1468.5 L338.5 1467.5 L339.9 1466.4 L341.2 1465.3 L342.6 1464.2 L344.0 1463.1 L345.5 1462.0 L346.9 1460.9 L348.4 1459.8 L349.9 1458.7 L351.4 1457.6 L352.9 1456.5 L354.5 1455.4 L356.1 1454.3 L357.7 1453.2 L359.3 1452.1 L361.0 1451.0 L362.6 1449.9 L364.3 1448.8 L366.0 1447.6 L367.8 1446.5 L369.5 1445.4 L371.3 1444.3 L373.1 1443.2 L374.9 1442.1 L376.7 1441.0 L378.6 1439.9 L380.5 1438.8 L382.4 1437.7 L384.3 1436.6 L386.2 1435.4 L388.2 1434.3 L390.2 1433.2 L392.2 1432.1 L394.2 1431.0 L396.3 1429.9 L398.4 1428.8 L400.5 1427.7 L402.6 1426.6 L404.7 1425.5 L406.9 1424.4 L409.1 1423.3 L411.3 1422.2 L413.5 1421.1 L415.7 1420.0 L418.0 1418.9 L420.3 1417.8 L422.6 1416.7 L425.0 1415.6 L427.3 1414.5 L429.7 1413.4 L432.1 1412.3 L434.5 1411.2 L436.9 1410.2 L439.4 1409.1 L441.9 1408.0 L444.4 1406.9 L446.9 1405.8 L449.5 1404.7 L452.0 1403.6 L454.6 1402.6 L457.2 1401.5 L459.9 1400.4 L462.5 1399.3 L465.2 1398.3 L467.9 1397.2 L470.6 1396.1 L473.4 1395.0 L476.1 1394.0 L478.9 1392.9 L481.7 1391.8 L484.5 1390.8 L487.4 1389.7 L490.3 1388.6 L493.2 1387.6 L496.1 1386.5 L499.0 1385.5 L502.0 1384.4 L504.9 1383.3 L507.9 1382.3 L511.0 1381.2 L514.0 1380.2 L517.1 1379.1 L520.2 1378.1 L523.3 1377.0 L526.4 1376.0 L529.5 1374.9 L532.7 1373.9 L535.9 1372.8 L539.1 1371.8 L542.4 1370.8 L545.6 1369.7 L548.9 1368.7 L552.2 1367.6 L555.5 1366.6 L558.9 1365.6 L562.2 1364.5 L565.6 1363.5 L569.0 1362.5 L572.5 1361.4 L575.9 1360.4 L579.4 1359.4 L582.9 1358.4 L586.4 1357.3 L589.9 1356.3 L593.5 1355.3 L597.1 1354.3 L600.7 1353.2 L604.3 1352.2 L607.9 1351.2 L611.6 1350.2 L615.3 1349.2 L619.0 1348.2 L622.7 1347.2 L626.5 1346.1 L630.3 1345.1 L634.1 1344.1 L637.9 1343.1 L641.7 1342.1 L645.6 1341.1 L649.4 1340.1 L653.4 1339.1 L657.3 1338.1 L661.2 1337.1 L665.2 1336.1 L669.2 1335.1 L673.2 1334.1 L677.2 1333.1 L681.3 1332.1 L685.3 1331.1 L689.4 1330.1 L693.6 1329.2 L697.7 1328.2 L701.9 1327.2 L706.0 1326.2 L710.2 1325.2 L714.5 1324.2 L718.7 1323.2 L723.0 1322.3 L727.3 1321.3 L731.6 1320.3 L735.9 1319.3 L740.3 1318.4 L744.7 1317.4 L749.1 1316.4 L753.5 1315.4 L757.9 1314.5 L762.4 1313.5 L766.9 1312.5 L771.4 1311.5 L775.9 1310.6 L780.4 1309.6 L785.0 1308.6 L789.6 1307.7 L794.2 1306.7 L798.8 1305.8 L803.5 1304.8 L808.2 1303.8 L812.9 1302.9 L817.6 1301.9 L822.3 1301.0 L827.1 1300.0 L831.9 1299.1 L836.7 1298.1 L841.5 1297.2 L846.4 1296.2 L851.2 1295.2 L856.1 1294.3 L861.0 1293.4 L866.0 1292.4 L870.9 1291.5 L875.9 1290.5 L880.9 1289.6 L885.9 1288.6 L891.0 1287.7 L896.0 1286.7 L901.1 1285.8 L906.2 1284.9 L911.4 1283.9 L916.5 1283.0 L921.7 1282.1 L926.9 1281.1 L932.1 1280.2 L937.3 1279.3 L942.6 1278.3 L947.9 1277.4 L953.2 1276.5 L958.5 1275.5 L963.8 1274.6 L969.2 1273.7 L974.6 1272.8 L980.0 1271.8 L985.4 1270.9 L990.9 1270.0 L996.3 1269.1 L1001.8 1268.1 L1007.3 1267.2 L1012.9 1266.3 L1018.4 1265.4 L1024.0 1264.5 L1029.6 1263.5 L1035.3 1262.6 L1040.9 1261.7 L1046.6 1260.8 L1052.2 1259.9 L1058.0 1259.0 L1063.7 1258.1 L1069.4 1257.2 L1075.2 1256.2 L1081.0 1255.3 L1086.8 1254.4 L1092.7 1253.5 L1098.5 1252.6 L1104.4 1251.7 L1110.3 1250.8 L1116.2 1249.9 L1122.2 1249.0 L1128.1 1248.1 L1134.1 1247.2 L1140.1 1246.3 L1146.2 1245.4 L1152.2 1244.5 L1158.3 1243.6 L1164.4 1242.7 L1170.5 1241.8 L1176.7 1240.9 L1182.8 1240.0 L1189.0 1239.1 L1195.2 1238.2 L1201.4 1237.3 L1207.7 1236.5 L1213.9 1235.6 L1220.2 1234.7 L1226.5 1233.8 L1232.9 1232.9 L1239.2 1232.0 L1245.6 1231.1 L1252.0 1230.2 L1258.4 1229.4 L1264.9 1228.5 L1271.3 1227.6 L1277.8 1226.7 L1284.3 1225.8 L1290.8 1225.0 L1297.4 1224.1 L1304.0 1223.2 L1310.5 1222.3 L1317.2 1221.4 L1323.8 1220.6 L1330.4 1219.7 L1337.1 1218.8 L1343.8 1217.9 L1350.5 1217.1 L1357.3 1216.2 L1364.0 1215.3 L1370.8 1214.5 L1377.6 1213.6 L1384.5 1212.7 L1391.3 1211.8 L1398.2 1211.0 L1405.1 1210.1 L1412.0 1209.2 L1418.9 1208.4 L1425.9 1207.5 L1432.9 1206.7 L1439.9 1205.8 L1446.9 1204.9 L1453.9 1204.1 L1461.0 1203.2 L1468.1 1202.3 L1475.2 1201.5 L1482.3 1200.6 L1489.5 1199.8 L1496.6 1198.9 L1503.8 1198.1 L1511.0 1197.2 L1518.3 1196.3 L1525.5 1195.5 L1532.8 1194.6 L1540.1 1193.8 L1547.4 1192.9 L1554.8 1192.1 L1562.1 1191.2 L1569.5 1190.4 L1576.9 1189.5 L1584.4 1188.7 L1591.8 1187.8 L1599.3 1187.0 L1606.8 1186.1 L1614.3 1185.3 L1621.8 1184.4 L1629.4 1183.6 L1637.0 1182.8 L1644.6 1181.9 L1652.2 1181.1 L1659.8 1180.2 L1667.5 1179.4 L1675.2 1178.5 L1682.9 1177.7 L1690.6 1176.9 L1698.4 1176.0 L1706.2 1175.2 L1714.0 1174.4 L1721.8 1173.5 L1729.6 1172.7 L1737.5 1171.8 L1745.3 1171.0 L1753.2 1170.2 L1761.2 1169.3 L1769.1 1168.5 L1777.1 1167.7 L1785.1 1166.8 L1793.1 1166.0 L1801.1 1165.2 L1809.2 1164.4 L1817.2 1163.5 L1825.3 1162.7 L1833.5 1161.9 L1841.6 1161.0 L1849.8 1160.2 L1857.9 1159.4 L1866.1 1158.6 L1874.4 1157.7 L1882.6 1156.9 L1890.9 1156.1 L1899.2 1155.3 L1907.5 1154.4 L1915.8 1153.6 L1924.2 1152.8 L1932.5 1152.0 L1940.9 1151.2 L1949.4 1150.3 L1957.8 1149.5 L1966.3 1148.7 L1974.7 1147.9 L1983.2 1147.1 L1991.8 1146.2 L2000.3 1145.4 L2008.9 1144.6 L2017.5 1143.8"/>
<path class="ln" stroke="#0000ff" d="M283.6 1559.3 L283.6 1559.3 L283.6 1559.1 L283.7 1558.8 L283.7 1558.4 L283.8 1557.9 L283.9 1557.2 L284.1 1556.4 L284.2 1555.5 L284.4 1554.5 L284.6 1553.4 L284.8 1552.1 L285.0 1550.8 L285.3 1549.3 L285.5 1547.7 L285.8 1546.0 L286.1 1544.2 L286.5 1542.3 L286.8 1540.3 L287.2 1538.1 L287.6 1535.9 L288.0 1533.5 L288.4 1531.1 L288.9 1528.5 L289.3 1525.9 L289.8 1523.1 L290.3 1520.3 L290.8 1517.3 L291.4 1514.3 L292.0 1511.1 L292.6 1507.9 L293.2 1504.6 L293.8 1501.2 L294.4 1497.7 L295.1 1494.1 L295.8 1490.5 L296.5 1486.7 L297.2 1482.9 L298.0 1479.0 L298.7 1475.1 L299.5 1471.0 L300.3 1466.9 L301.2 1462.8 L302.0 1458.5 L302.9 1454.2 L303.8 1449.9 L304.7 1445.4 L305.6 1441.0 L306.5 1436.4 L307.5 1431.9 L308.5 1427.2 L309.5 1422.5 L310.5 1417.8 L311.6 1413.0 L312.6 1408.2 L313.7 1403.3 L314.8 1398.4 L316.0 1393.5 L317.1 1388.5 L318.3 1383.5 L319.5 1378.5 L320.7 1373.4 L321.9 1368.3 L323.1 1363.2 L324.4 1358.0 L325.7 1352.9 L327.0 1347.7 L328.3 1342.5 L329.7 1337.2 L331.0 1332.0 L332.4 1326.7 L333.8 1321.5 L335.2 1316.2 L336.7 1310.9 L338.1 1305.6 L339.6 1300.3 L341.1 1295.0 L342.7 1289.7 L344.2 1284.4 L345.8 1279.0 L347.3 1273.7 L349.0 1268.4 L350.6 1263.1 L352.2 1257.8 L353.9 1252.5 L355.6 1247.2 L357.3 1241.9 L359.0 1236.6 L360.7 1231.3 L362.5 1226.1 L364.3 1220.8 L366.1 1215.6 L367.9 1210.3 L369.8 1205.1 L371.6 1199.9 L373.5 1194.8 L375.4 1189.6 L377.3 1184.4 L379.3 1179.3 L381.2 1174.2 L383.2 1169.1 L385.2 1164.0 L387.2 1159.0 L389.3 1153.9 L391.3 1148.9 L393.4 1144.0 L395.5 1139.0 L397.7 1134.1 L399.8 1129.1 L402.0 1124.2 L404.1 1119.4 L406.3 1114.5 L408.6 1109.7 L410.8 1104.9 L413.1 1100.2 L415.3 1095.4 L417.7 1090.7 L420.0 1086.0 L422.3 1081.4 L424.7 1076.8 L427.1 1072.2 L429.5 1067.6 L431.9 1063.1 L434.3 1058.5 L436.8 1054.1 L439.3 1049.6 L441.8 1045.2 L444.3 1040.8 L446.8 1036.4 L449.4 1032.1 L452.0 1027.8 L454.6 1023.5 L457.2 1019.3 L459.8 1015.0 L462.5 1010.9 L465.2 1006.7 L467.9 1002.6 L470.6 998.5 L473.3 994.4 L476.1 990.4 L478.9 986.4 L481.7 982.4 L484.5 978.4 L487.3 974.5 L490.2 970.6 L493.1 966.8 L496.0 962.9 L498.9 959.1 L501.8 955.4 L504.8 951.6 L507.8 947.9 L510.8 944.2 L513.8 940.6 L516.8 937.0 L519.9 933.4 L523.0 929.8 L526.1 926.3 L529.2 922.7 L532.3 919.3 L535.5 915.8 L538.6 912.4 L541.8 909.0 L545.1 905.6 L548.3 902.3 L551.6 899.0 L554.8 895.7 L558.1 892.4 L561.5 889.2 L564.8 886.0 L568.1 882.8 L571.5 879.7 L574.9 876.5 L578.3 873.4 L581.8 870.4 L585.2 867.3 L588.7 864.3 L592.2 861.3 L595.7 858.3 L599.3 855.4 L602.8 852.5 L606.4 849.6 L610.0 846.7 L613.6 843.9 L617.2 841.0 L620.9 838.2 L624.6 835.5 L628.3 832.7 L632.0 830.0 L635.7 827.3 L639.5 824.6 L643.3 821.9 L647.1 819.3 L650.9 816.7 L654.7 814.1 L658.6 811.5 L662.4 809.0 L666.3 806.5 L670.3 804.0 L674.2 801.5 L678.1 799.0 L682.1 796.6 L686.1 794.2 L690.1 791.8 L694.2 789.4 L698.2 787.1 L702.3 784.7 L706.4 782.4 L710.5 780.1 L714.6 777.8 L718.8 775.6 L723.0 773.4 L727.2 771.1 L731.4 768.9 L735.6 766.8 L739.9 764.6 L744.1 762.5 L748.4 760.3 L752.7 758.2 L757.1 756.1 L761.4 754.1 L765.8 752.0 L770.2 750.0 L774.6 748.0 L779.1 746.0 L783.5 744.0 L788.0 742.0 L792.5 740.1 L797.0 738.1 L801.5 736.2 L806.1 734.3 L810.6 732.4 L815.2 730.6 L819.9 728.7 L824.5 726.9 L829.1 725.1 L833.8 723.3 L838.5 721.5 L843.2 719.7 L847.9 717.9 L852.7 716.2 L857.5 714.5 L862.3 712.7 L867.1 711.0 L871.9 709.4 L876.8 707.7 L881.6 706.0 L886.5 704.4 L891.4 702.7 L896.4 701.1 L901.3 699.5 L906.3 697.9 L911.3 696.4 L916.3 694.8 L921.3 693.2 L926.4 691.7 L931.5 690.2 L936.5 688.7 L941.7 687.2 L946.8 685.7 L951.9 684.2 L957.1 682.7 L962.3 681.3 L967.5 679.8 L972.7 678.4 L978.0 677.0 L983.3 675.6 L988.6 674.2 L993.9 672.8 L999.2 671.4 L1004.5 670.1 L1009.9 668.7 L1015.3 667.4 L1020.7 666.0 L1026.1 664.7 L1031.6 663.4 L1037.1 662.1 L1042.6 660.8 L1048.1 659.6 L1053.6 658.3 L1059.1 657.0 L1064.7 655.8 L1070.3 654.6 L1075.9 653.3 L1081.5 652.1 L1087.2 650.9 L1092.9 649.7 L1098.5 648.5 L1104.3 647.3 L1110.0 646.2 L1115.7 645.0 L1121.5 643.9 L1127.3 642.7 L1133.1 641.6 L1138.9 640.5 L1144.8 639.3 L1150.6 638.2 L1156.5 637.1 L1162.4 636.0 L1168.4 635.0 L1174.3 633.9 L1180.3 632.8 L1186.3 631.8 L1192.3 630.7 L1198.3 629.7 L1204.4 628.6 L1210.4 627.6 L1216.5 626.6 L1222.6 625.6 L1228.7 624.6 L1234.9 623.6 L1241.1 622.6 L1247.3 621.6 L1253.5 620.7 L1259.7 619.7 L1265.9 618.7 L1272.2 617.8 L1278.5 616.8 L1284.8 615.9 L1291.1 615.0 L1297.5 614.1 L1303.8 613.1 L1310.2 612.2 L1316.6 611.3 L1323.1 610.4 L1329.5 609.5 L1336.0 608.7 L1342.5 607.8 L1349.0 606.9 L1355.5 606.1 L1362.0 605.2 L1368.6 604.4 L1375.2 603.5 L1381.8 602.7 L1388.4 601.8 L1395.1 601.0 L1401.7 600.2 L1408.4 599.4 L1415.1 598.6 L1421.8 597.8 L1428.6 597.0 L1435.3 596.2 L1442.1 595.4 L1448.9 594.6 L1455.8 593.8 L1462.6 593.1 L1469.5 592.3 L1476.4 591.6 L1483.3 590.8 L1490.2 590.1 L1497.1 589.3 L1504.1 588.6 L1511.1 587.9 L1518.1 587.1 L1525.1 586.4 L1532.2 585.7 L1539.2 585.0 L1546.3 584.3 L1553.4 583.6 L1560.5 582.9 L1567.7 582.2 L1574.8 581.5 L1582.0 580.8 L1589.2 580.1 L1596.4 579.5 L1603.7 578.8 L1611.0 578.1 L1618.2 577.5 L1625.5 576.8 L1632.9 576.2 L1640.2 575.5 L1647.6 574.9 L1655.0 574.3 L1662.4 573.6 L1669.8 573.0 L1677.2 572.4 L1684.7 571.8 L1692.2 571.1 L1699.7 570.5 L1707.2 569.9 L1714.7 569.3 L1722.3 568.7 L1729.9 568.1 L1737.5 567.5 L1745.1 566.9 L1752.7 566.4 L1760.4 565.8 L1768.1 565.2 L1775.8 564.6 L1783.5 564.1 L1791.2 563.5 L1799.0 562.9 L1806.8 562.4 L1814.6 561.8 L1822.4 561.3 L1830.3 560.7 L1838.1 560.2 L1846.0 559.7 L1853.9 559.1 L1861.8 558.6 L1869.8 558.1 L1877.7 557.5"/>
<path class="fr" stroke="#0000ff" d="M284.3 1428.0 L284.3 1428.0 L284.3 1427.8 L284.4 1427.4 L284.4 1427.0 L284.5 1426.3 L284.6 1425.6 L284.8 1424.7 L284.9 1423.8 L285.1 1422.7 L285.3 1421.4 L285.5 1420.1 L285.7 1418.6 L286.0 1417.1 L286.2 1415.4 L286.5 1413.7 L286.8 1411.9 L287.2 1409.9 L287.5 1407.9 L287.9 1405.9 L288.3 1403.7 L288.7 1401.5 L289.1 1399.2 L289.6 1396.8 L290.0 1394.4 L290.5 1392.0 L291.0 1389.5 L291.5 1386.9 L292.1 1384.3 L292.7 1381.7 L293.2 1379.0 L293.9 1376.3 L294.5 1373.6 L295.1 1370.8 L295.8 1368.0 L296.5 1365.2 L297.2 1362.3 L297.9 1359.5 L298.7 1356.6 L299.4 1353.7 L300.2 1350.7 L301.0 1347.8 L301.9 1344.9 L302.7 1341.9 L303.6 1338.9 L304.5 1336.0 L305.4 1333.0 L306.3 1330.0 L307.2 1327.0 L308.2 1324.0 L309.2 1320.9 L310.2 1317.9 L311.2 1314.9 L312.3 1311.9 L313.3 1308.8 L314.4 1305.8 L315.5 1302.8 L316.6 1299.7 L317.8 1296.7 L319.0 1293.7 L320.1 1290.6 L321.3 1287.6 L322.6 1284.6 L323.8 1281.5 L325.1 1278.5 L326.4 1275.5 L327.7 1272.5 L329.0 1269.4 L330.3 1266.4 L331.7 1263.4 L333.1 1260.4 L334.5 1257.4 L335.9 1254.4 L337.4 1251.4 L338.8 1248.4 L340.3 1245.4 L341.8 1242.4 L343.3 1239.4 L344.9 1236.4 L346.4 1233.4 L348.0 1230.5 L349.6 1227.5 L351.2 1224.5 L352.9 1221.6 L354.6 1218.6 L356.2 1215.6 L357.9 1212.7 L359.7 1209.8 L361.4 1206.8 L363.2 1203.9 L365.0 1200.9 L366.8 1198.0 L368.6 1195.1 L370.4 1192.2 L372.3 1189.3 L374.2 1186.4 L376.1 1183.5 L378.0 1180.6 L379.9 1177.7 L381.9 1174.8 L383.9 1171.9 L385.9 1169.1 L387.9 1166.2 L389.9 1163.3 L392.0 1160.5 L394.1 1157.6 L396.2 1154.8 L398.3 1151.9 L400.4 1149.1 L402.6 1146.2 L404.8 1143.4 L407.0 1140.6 L409.2 1137.8 L411.4 1134.9 L413.7 1132.1 L416.0 1129.3 L418.3 1126.5 L420.6 1123.7 L423.0 1120.9 L425.3 1118.2 L427.7 1115.4 L430.1 1112.6 L432.5 1109.8 L435.0 1107.1 L437.4 1104.3 L439.9 1101.5 L442.4 1098.8 L444.9 1096.0 L447.5 1093.3 L450.0 1090.6 L452.6 1087.8 L455.2 1085.1 L457.8 1082.4 L460.4 1079.7 L463.1 1076.9 L465.8 1074.2 L468.5 1071.5 L471.2 1068.8 L473.9 1066.1 L476.7 1063.4 L479.5 1060.7 L482.3 1058.1 L485.1 1055.4 L487.9 1052.7 L490.8 1050.0 L493.7 1047.4 L496.6 1044.7 L499.5 1042.0 L502.4 1039.4 L505.4 1036.7 L508.4 1034.1 L511.4 1031.5 L514.4 1028.8 L517.4 1026.2 L520.5 1023.6 L523.5 1020.9 L526.6 1018.3 L529.8 1015.7 L532.9 1013.1 L536.1 1010.5 L539.2 1007.9 L542.4 1005.3 L545.6 1002.7 L548.9 1000.1 L552.1 997.5 L555.4 994.9 L558.7 992.3 L562.0 989.7 L565.4 987.2 L568.7 984.6 L572.1 982.0 L575.5 979.5 L578.9 976.9 L582.3 974.3 L585.8 971.8 L589.3 969.2 L592.8 966.7 L596.3 964.2 L599.8 961.6 L603.4 959.1 L607.0 956.6 L610.5 954.0 L614.2 951.5 L617.8 949.0 L621.5 946.5 L625.1 944.0 L628.8 941.5 L632.5 938.9 L636.3 936.4 L640.0 933.9 L643.8 931.4 L647.6 929.0 L651.4 926.5 L655.2 924.0 L659.1 921.5 L663.0 919.0 L666.9 916.5 L670.8 914.1 L674.7 911.6 L678.7 909.1 L682.6 906.7 L686.6 904.2 L690.6 901.8 L694.7 899.3 L698.7 896.9 L702.8 894.4 L706.9 892.0 L711.0 889.5 L715.1 887.1 L719.3 884.6 L723.5 882.2 L727.7 879.8 L731.9 877.4 L736.1 874.9 L740.4 872.5 L744.6 870.1 L748.9 867.7 L753.2 865.3 L757.6 862.9 L761.9 860.5 L766.3 858.1 L770.7 855.7 L775.1 853.3 L779.5 850.9 L784.0 848.5 L788.5 846.1 L792.9 843.7 L797.5 841.3 L802.0 838.9 L806.5 836.6 L811.1 834.2 L815.7 831.8 L820.3 829.5 L824.9 827.1 L829.6 824.7 L834.3 822.4 L839.0 820.0 L843.7 817.7 L848.4 815.3 L853.2 813.0 L857.9 810.6 L862.7 808.3 L867.5 805.9 L872.4 803.6 L877.2 801.2 L882.1 798.9 L887.0 796.6 L891.9 794.2 L896.8 791.9 L901.8 789.6 L906.7 787.3 L911.7 785.0 L916.7 782.6 L921.7 780.3 L926.8 778.0 L931.9 775.7 L937.0 773.4 L942.1 771.1 L947.2 768.8 L952.3 766.5 L957.5 764.2 L962.7 761.9 L967.9 759.6 L973.1 757.3 L978.4 755.0 L983.7 752.7 L988.9 750.5 L994.2 748.2 L999.6 745.9 L1004.9 743.6 L1010.3 741.4 L1015.7 739.1 L1021.1 736.8 L1026.5 734.5 L1032.0 732.3 L1037.4 730.0 L1042.9 727.8 L1048.4 725.5 L1054.0 723.2 L1059.5 721.0 L1065.1 718.7 L1070.7 716.5 L1076.3 714.2 L1081.9 712.0 L1087.5 709.8 L1093.2 707.5 L1098.9 705.3 L1104.6 703.0 L1110.3 700.8 L1116.1 698.6 L1121.8 696.4 L1127.6 694.1 L1133.4 691.9 L1139.3 689.7 L1145.1 687.5 L1151.0 685.2 L1156.9 683.0 L1162.8 680.8 L1168.7 678.6 L1174.6 676.4 L1180.6 674.2 L1186.6 672.0 L1192.6 669.8 L1198.6 667.6 L1204.7 665.4 L1210.7 663.2 L1216.8 661.0 L1222.9 658.8 L1229.0 656.6 L1235.2 654.4 L1241.3 652.2 L1247.5 650.0 L1253.7 647.8 L1260.0 645.6 L1266.2 643.5 L1272.5 641.3 L1278.7 639.1 L1285.1 636.9 L1291.4 634.8 L1297.7 632.6 L1304.1 630.4 L1310.5 628.3 L1316.9 626.1 L1323.3 623.9 L1329.7 621.8 L1336.2 619.6 L1342.7 617.4 L1349.2 615.3 L1355.7 613.1 L1362.3 611.0 L1368.8 608.8 L1375.4 606.7 L1382.0 604.5 L1388.6 602.4 L1395.3 600.2 L1401.9 598.1 L1408.6 596.0 L1415.3 593.8 L1422.0 591.7 L1428.8 589.5 L1435.5 587.4 L1442.3 585.3 L1449.1 583.2 L1455.9 581.0 L1462.8 578.9 L1469.7 576.8 L1476.5 574.7 L1483.4 572.5 L1490.4 570.4 L1497.3 568.3 L1504.3 566.2 L1511.2 564.1 L1518.2 562.0 L1525.3 559.8 L1532.3 557.7 L1539.4 555.6 L1546.4 553.5 L1553.5 551.4 L1560.7 549.3 L1567.8 547.2 L1575.0 545.1 L1582.1 543.0 L1589.3 540.9 L1596.6 538.8 L1603.8 536.7 L1611.1 534.6 L1618.3 532.6 L1625.6 530.5 L1633.0 528.4 L1640.3 526.3 L1647.7 524.2 L1655.0 522.1 L1662.4 520.0 L1669.9 518.0 L1677.3 515.9 L1684.8 513.8 L1692.2 511.7 L1699.7 509.7 L1707.3 507.6 L1714.8 505.5 L1722.4 503.5 L1729.9 501.4 L1737.5 499.3 L1745.2 497.3 L1752.8 495.2 L1760.5 493.1 L1768.1 491.1 L1775.8 489.0 L1783.5 487.0 L1791.3 484.9 L1799.0 482.9 L1806.8 480.8 L1814.6 478.8 L1822.4 476.7 L1830.3 474.7 L1838.1 472.6 L1846.0 470.6 L1853.9 468.5 L1861.8 466.5 L1869.8 464.5 L1877.7 462.4"/>
</g>
<g id="axes" class="ax">
<rect x="254" y="56" width="7" height="1564"/>
<rect x="254" y="1614" width="1943" height="6"/>
<rect x="226" y="1614" width="28" height="6"/>
<rect x="226" y="1419" width="28" height="6"/>
<rect x="226" y="1224" width="28" height="6"/>
<rect x="226" y="1030" width="28" height="6"/>
<rect x="226" y="835" width="28" height="6"/>
<rect x="226" y="640" width="28" height="6"/>
<rect x="226" y="445" width="28" height="6"/>
<rect x="226" y="251" width="28" height="6"/>
<rect x="226" y="56" width="28" height="6"/>
<rect x="242" y="1516" width="12" height="7"/>
<rect x="242" y="1321" width="12" height="7"/>
<rect x="242" y="1127" width="12" height="7"/>
<rect x="242" y="932" width="12" height="7"/>
<rect x="242" y="737" width="12" height="7"/>
<rect x="242" y="542" width="12" height="7"/>
<rect x="242" y="348" width="12" height="7"/>
<rect x="242" y="153" width="12" height="7"/>
<rect x="271" y="1620" width="7" height="28"/>
<rect x="446" y="1620" width="7" height="28"/>
<rect x="621" y="1620" width="7" height="28"/>
<rect x="795" y="1620" width="7" height="28"/>
<rect x="970" y="1620" width="7" height="28"/>
<rect x="1145" y="1620" width="7" height="28"/>
<rect x="1319" y="1620" width="7" height="28"/>
<rect x="1494" y="1620" width="7" height="28"/>
<rect x="1669" y="1620" width="7" height="28"/>
<rect x="1844" y="1620" width="7" height="28"/>
<rect x="2018" y="1620" width="7" height="28"/>
<rect x="2194" y="1620" width="6" height="28"/>
<rect x="358" y="1620" width="7" height="13"/>
<rect x="533" y="1620" width="7" height="13"/>
<rect x="708" y="1620" width="7" height="13"/>
<rect x="883" y="1620" width="7" height="13"/>
<rect x="1057" y="1620" width="7" height="13"/>
<rect x="1232" y="1620" width="7" height="13"/>
<rect x="1407" y="1620" width="7" height="13"/>
<rect x="1582" y="1620" width="7" height="13"/>
<rect x="1756" y="1620" width="7" height="13"/>
<rect x="1931" y="1620" width="7" height="13"/>
<rect x="2106" y="1620" width="7" height="13"/>
</g>
<g id="ticklabels" class="tick">
<text transform="translate(204.5 1636.3) scale(1 1.035)" text-anchor="end">0</text>
<text transform="translate(204.5 1441.6) scale(1 1.035)" text-anchor="end">5</text>
<text transform="translate(204.5 1246.8) scale(1 1.035)" text-anchor="end">10</text>
<text transform="translate(204.5 1052.1) scale(1 1.035)" text-anchor="end">15</text>
<text transform="translate(204.5 857.4) scale(1 1.035)" text-anchor="end">20</text>
<text transform="translate(204.5 662.7) scale(1 1.035)" text-anchor="end">25</text>
<text transform="translate(204.5 468.0) scale(1 1.035)" text-anchor="end">30</text>
<text transform="translate(204.5 273.2) scale(1 1.035)" text-anchor="end">35</text>
<text transform="translate(204.5 78.5) scale(1 1.035)" text-anchor="end">40</text>
<text transform="translate(274.5 1718.5) scale(1 1.035)" text-anchor="middle">0</text>
<text transform="translate(449.2 1718.5) scale(1 1.035)" text-anchor="middle">10</text>
<text transform="translate(623.9 1718.5) scale(1 1.035)" text-anchor="middle">20</text>
<text transform="translate(798.6 1718.5) scale(1 1.035)" text-anchor="middle">30</text>
<text transform="translate(973.3 1718.5) scale(1 1.035)" text-anchor="middle">40</text>
<text transform="translate(1148.0 1718.5) scale(1 1.035)" text-anchor="middle">50</text>
<text transform="translate(1322.7 1718.5) scale(1 1.035)" text-anchor="middle">60</text>
<text transform="translate(1497.4 1718.5) scale(1 1.035)" text-anchor="middle">70</text>
<text transform="translate(1672.1 1718.5) scale(1 1.035)" text-anchor="middle">80</text>
<text transform="translate(1846.8 1718.5) scale(1 1.035)" text-anchor="middle">90</text>
<text transform="translate(2021.5 1718.5) scale(1 1.035)" text-anchor="middle">100</text>
<text transform="translate(2196.2 1718.5) scale(1 1.035)" text-anchor="middle">110</text>
</g>
<text class="ttl" transform="translate(105.2 837.8) rotate(-90) scale(1.014 1)" text-anchor="middle">Adsorbed DCF (mg/g)</text>
<text class="ttl" transform="translate(1237 1846.6) scale(1.006 1.012)" text-anchor="middle">C<tspan font-size="54" dy="22.6">e</tspan><tspan dy="-22.6"> (mg/L)</tspan></text>
<g id="legend">
<polygon class="mk" style="stroke-width:3.6" fill="#d3d3d3" points="322.9,65.3 344.8,86.9 322.9,108.5 301.0,86.9"/>
<circle class="mk" fill="#ff0000" cx="322.0" cy="145.8" r="18.0"/>
<polygon class="mkr" fill="#00ff00" points="321.9,180.7 343.2,217.3 300.6,217.3"/>
<rect fill="#0000ff" shape-rendering="crispEdges" rx="1.5" x="304.8" y="247.5" width="35.4" height="35.4"/>
<line class="ln" stroke="#000" x1="267" y1="324.5" x2="378" y2="324.5"/>
<g id="legend-freundlich-line" fill="#000"><rect x="267" y="381.9" width="12" height="4.2" rx="2" ry="2"/><rect x="281" y="381.9" width="6" height="4.2" rx="2" ry="2"/><rect x="289" y="381.9" width="5" height="4.2" rx="2" ry="2"/><rect x="298" y="381.9" width="12" height="4.2" rx="2" ry="2"/><rect x="312" y="381.9" width="5" height="4.2" rx="2" ry="2"/><rect x="320" y="381.9" width="5" height="4.2" rx="2" ry="2"/><rect x="329" y="381.9" width="11" height="4.2" rx="2" ry="2"/><rect x="343" y="381.9" width="5" height="4.2" rx="2" ry="2"/><rect x="351" y="381.9" width="5" height="4.2" rx="2" ry="2"/><rect x="360" y="381.9" width="11" height="4.2" rx="2" ry="2"/><rect x="374" y="381.9" width="4" height="4.2" rx="2" ry="2"/></g>
<g class="leg">
<text x="388.5" y="102.0">PO100</text>
<text x="388.5" y="161.5">PO200</text>
<text x="388.5" y="220.8">PD100</text>
<text x="388.5" y="280.2">PD200</text>
<text x="388.5" y="341.1">Langmuir</text>
<text x="388.5" y="399.4">Freundlich</text>
</g></g>
</svg>
</body></html>
